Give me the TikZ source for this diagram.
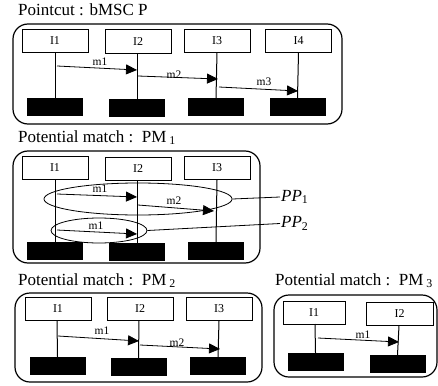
\documentclass[tikz,border=0pt]{standalone}
\usepackage{fontspec}
\setmainfont{Liberation Serif}
\usetikzlibrary{arrows.meta,shapes.geometric}
\tikzset{
  inst/.style={draw, line width=0.8pt, minimum width=66pt, minimum height=23pt, inner sep=0pt, font=\fontsize{12}{12}\selectfont},
  blk/.style={fill=black, minimum width=56pt, minimum height=18pt, inner sep=0pt},
  life/.style={line width=1pt},
  msg/.style={line width=0.8pt, -{Triangle[length=11pt,width=10pt]}},
  mlab/.style={font=\fontsize{11.5}{11.5}\selectfont, inner sep=0pt},
  frame/.style={draw, line width=1.2pt, rounded corners=15pt, inner sep=0pt},
  ttl/.style={anchor=base west, inner sep=0pt, font=\fontsize{17}{17}\selectfont},
  ppell/.style={draw, line width=0.8pt, ellipse, inner sep=0pt},
  pplab/.style={anchor=west, inner sep=1pt, font=\fontsize{17}{17}\selectfont\itshape},
}
\begin{document}
\begin{tikzpicture}[x=1pt,y=-1pt]
\useasboundingbox (0,0) rectangle (438,385);

% ---------- Pointcut ----------
\node[ttl] (t1) at (18,16) {Pointcut : bMSC P};
\node[frame, minimum width=329pt, minimum height=100pt] (f1) at (177.5,74) {};
\node[inst] (a1) at (55,40.5) {I1};
\node[inst, minimum height=24pt] (a2) at (138,41.5) {I2};
\node[inst] (a3) at (217,40.5) {I3};
\node[inst] (a4) at (298.5,40.5) {I4};
\node[blk] (ab1) at (55,107) {};
\node[blk] (ab2) at (137,108) {};
\node[blk] (ab3) at (216,107) {};
\node[blk] (ab4) at (297.5,107) {};
\draw[life] (a1.south) -- (ab1.north);
\draw[life] (137,53.5) coordinate (a2s) -- (ab2.south);
\draw[life] (a3.south) -- (ab3.north);
\draw[life] (a4.south) -- (ab4.north);
\coordinate (am1s) at (57,66);  \coordinate (am1e) at (137,70);
\coordinate (am2s) at (138,76); \coordinate (am2e) at (218,79);
\coordinate (am3s) at (219,87); \coordinate (am3e) at (298,91);
\draw[msg] (am1s) -- (am1e);
\draw[msg] (am2s) -- (am2e);
\draw[msg] (am3s) -- (am3e);
\node[mlab] (al1) at (100,62) {m1};
\node[mlab] (al2) at (174,74.5) {m2};
\node[mlab] (al3) at (264,82) {m3};

% ---------- PM1 ----------
\node[ttl] (t2) at (18,142) {Potential match :\, PM\,\textsubscript{1}};
\node[frame, minimum width=247pt, minimum height=112pt] (f2) at (136.5,207) {};
\node[inst] (b1) at (55,168) {I1};
\node[inst] (b2) at (138,168.5) {I2};
\node[inst] (b3) at (217,168) {I3};
\node[blk] (bb1) at (55,251) {};
\node[blk] (bb2) at (137,252) {};
\node[blk] (bb3) at (216,251) {};
\draw[life] (b1.south) -- (bb1.north);
\draw[life] (137,180) coordinate (b2s) -- (bb2.north);
\draw[life] (b3.south) -- (bb3.north);
\coordinate (bm1s) at (57,194);  \coordinate (bm1e) at (137,197);
\coordinate (bm2s) at (138,205); \coordinate (bm2e) at (214,211);
\coordinate (bm3s) at (57,230);  \coordinate (bm3e) at (137,234);
\draw[msg] (bm1s) -- (bm1e);
\draw[msg] (bm2s) -- (bm2e);
\draw[msg] (bm3s) -- (bm3e);
\node[mlab] (bl1) at (100,189) {m1};
\node[mlab] (bl2) at (174,201) {m2};
\node[mlab] (bl3) at (96,225.5) {m1};
\node[ppell, minimum width=188pt, minimum height=32pt] (pp1) at (138,199) {};
\node[ppell, minimum width=96pt, minimum height=25pt] (pp2) at (99,230.5) {};
\node[pplab] (pp1l) at (280,197) {PP\textsubscript{\upshape 1}};
\node[pplab] (pp2l) at (280,223.5) {PP\textsubscript{\upshape 2}};
\draw[line width=0.8pt] (pp1.east) -- (pp1l.west);
\draw[line width=0.8pt] (pp2.east) -- (pp2l.west);

% ---------- PM2 ----------
\node[ttl] (t3) at (18,285) {Potential match :\, PM\,\textsubscript{2}};
\node[frame, minimum width=247pt, minimum height=89pt] (f3) at (138.5,337.5) {};
\node[inst] (c1) at (58,309) {I1};
\node[inst] (c2) at (140,309) {I2};
\node[inst] (c3) at (219,309) {I3};
\node[blk] (cb1) at (57.5,366) {};
\node[blk] (cb2) at (138.5,367) {};
\node[blk] (cb3) at (218,366) {};
\draw[life] (57,320.5) coordinate (c1s) -- (cb1.north);
\draw[life] (139,320.5) coordinate (c2s) -- (cb2.north);
\draw[life] (c3.south) -- (cb3.north);
\coordinate (cm1s) at (58,336);  \coordinate (cm1e) at (139,341);
\coordinate (cm2s) at (140,345); \coordinate (cm2e) at (220,349);
\draw[msg] (cm1s) -- (cm1e);
\draw[msg] (cm2s) -- (cm2e);
\node[mlab] (cl1) at (102,331) {m1};
\node[mlab] (cl2) at (177,342.5) {m2};

% ---------- PM3 ----------
\node[ttl] (t4) at (275,285) {Potential match :\, PM\,\textsubscript{3}};
\node[frame, minimum width=163pt, minimum height=82pt] (f4) at (355.5,336) {};
\node[inst, minimum width=62pt] (d1) at (314,312.5) {I1};
\node[inst, minimum width=67pt] (d2) at (399.5,314) {I2};
\node[blk] (db1) at (315.5,362) {};
\node[blk] (db2) at (397.5,364) {};
\draw[life] (315,324) coordinate (d1s) -- (db1.north);
\draw[life] (399,325.5) coordinate (d2s) -- (db2.north);
\coordinate (dm1s) at (318,338); \coordinate (dm1e) at (399,342);
\draw[msg] (dm1s) -- (dm1e);
\node[mlab] (dl1) at (363,334.5) {m1};
\end{tikzpicture}
\end{document}
